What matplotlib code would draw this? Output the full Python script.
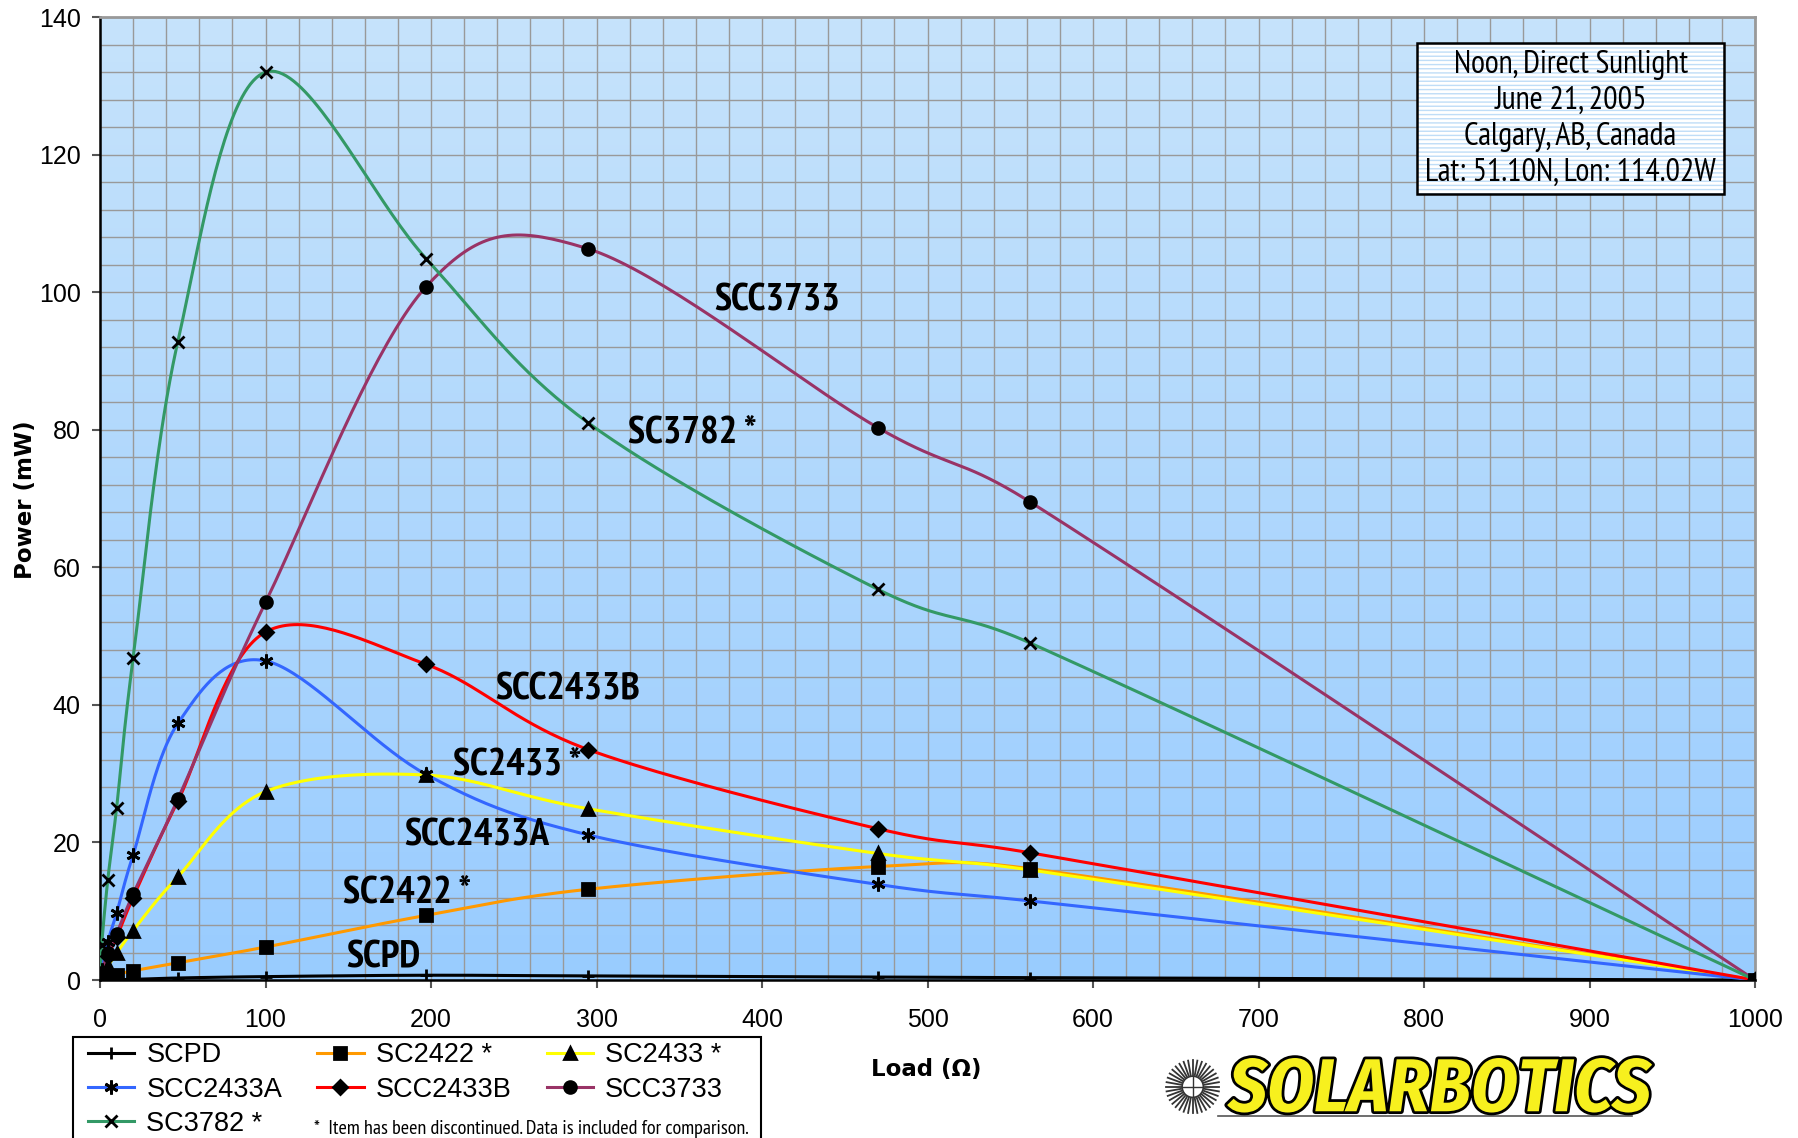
import logging
import numpy as np
import matplotlib
matplotlib.use("Agg")
import matplotlib.pyplot as plt
import matplotlib.patheffects as pe
from matplotlib.patches import Rectangle
from matplotlib.ticker import MultipleLocator

logging.getLogger("matplotlib.font_manager").setLevel(logging.ERROR)

# load resistance (ohm) and measured power (mW) for each cell
load = [0, 1, 4.7, 10, 20, 47, 100, 197, 295, 470, 562, 1000]

scpd = [0, 0.0, 0.0, 0.05, 0.1, 0.3, 0.5, 0.7, 0.6, 0.45, 0.35, 0]
sc2422 = [0, 0.1, 0.4, 0.8, 1.35, 2.5, 4.8, 9.4, 13.2, 16.5, 16.2, 0]
sc2433 = [0, 0.5, 2.0, 3.9, 7.2, 15.0, 27.4, 29.8, 24.9, 18.4, 16.0, 0]
scc2433a = [0, 1.5, 5.6, 9.7, 18.2, 37.3, 46.4, 29.9, 21.1, 13.9, 11.5, 0]
scc2433b = [0, 1.0, 3.5, 6.2, 12.0, 26.0, 50.6, 45.9, 33.5, 22.0, 18.5, 0]
scc3733 = [0, 1.0, 3.9, 6.7, 12.5, 26.3, 54.9, 100.8, 106.3, 80.3, 69.5, 0]
sc3782 = [0, 5.1, 14.6, 25.0, 46.8, 92.8, 132.0, 104.9, 81.0, 56.8, 49.0, 0]

names = ["SCPD", "SC2422 *", "SC2433 *", "SCC2433A", "SCC2433B", "SCC3733", "SC3782 *"]
values = [scpd, sc2422, sc2433, scc2433a, scc2433b, scc3733, sc3782]
colors = ["black", "#FF9900", "#FFFF00", "#3366FF", "#FF0000", "#993366", "#339966"]
markers = ["+", "s", "^", (6, 2, 0), "D", "o", "x"]
msizes = [9, 8, 8.5, 10, 7, 8.5, 8]

# inline labels: (text, x, y)
label_text = ["SCC3733", "SC3782 *", "SCC2433B", "SC2433 *", "SCC2433A", "SC2422 *", "SCPD"]
label_x = [371, 319, 239, 213, 184, 147, 149]
label_y = [98.7, 79.5, 42.1, 31.2, 21.0, 12.7, 3.2]

info_lines = ["Noon, Direct Sunlight", "June 21, 2005", "Calgary, AB, Canada",
              "Lat: 51.10N, Lon: 114.02W"]

NARROW = ["Arial Narrow", "Liberation Sans Narrow", "PT Sans Narrow", "Archivo Narrow",
          "Roboto Condensed", "Liberation Sans"]
LOGO = ["Fira Sans Condensed", "Barlow Condensed", "Roboto Condensed", "Archivo Narrow",
        "PT Sans Narrow", "Liberation Sans"]
ARIAL = ["Liberation Sans", "DejaVu Sans"]


def smooth(ax, x, y, steps=40):
    # excel-like smoothed line: bezier with 1/6 tangents, capped at half the segment
    # length (measured on screen)
    data = np.column_stack([x, y]).astype(float)
    data = np.vstack([data[0], data, data[-1]])
    scr = ax.transData.transform(data)
    t = np.linspace(0, 1, steps)[:, None]
    out = []
    for i in range(1, len(data) - 2):
        p0, p1, p2, p3 = data[i - 1], data[i], data[i + 1], data[i + 2]
        d12 = np.hypot(*(scr[i + 1] - scr[i]))
        d02 = np.hypot(*(scr[i + 1] - scr[i - 1]))
        d13 = np.hypot(*(scr[i + 2] - scr[i]))
        f1 = 1 / 6 if d02 / 6 < d12 / 2 else d12 / (2 * d02)
        f2 = 1 / 6 if d13 / 6 < d12 / 2 else d12 / (2 * d13)
        c1 = p1 + f1 * (p2 - p0)
        c2 = p2 - f2 * (p3 - p1)
        seg = (1 - t) ** 3 * p1 + 3 * (1 - t) ** 2 * t * c1 + 3 * (1 - t) * t ** 2 * c2 + t ** 3 * p2
        out.append(seg if i == 1 else seg[1:])
    out = np.vstack(out)
    return out[:, 0], out[:, 1]


fig = plt.figure(figsize=(17.99, 11.38), dpi=100)
ax = fig.add_axes([0.0556, 0.1388, 0.92, 0.8462])

# gradient background
grad = np.linspace(0, 1, 256)[:, None]
cmap = matplotlib.colors.LinearSegmentedColormap.from_list("bg", ["#99CCFF", "#C6E3FB"])
ax.imshow(grad, cmap=cmap, origin="lower", extent=[0, 1, 0, 1], transform=ax.transAxes,
          aspect="auto", zorder=0)
ax.set_xlim(0, 1000)
ax.set_ylim(0, 140)

handles = []
for name, vals, col, mk, ms in zip(names, values, colors, markers, msizes):
    sx, sy = smooth(ax, load, vals)
    ax.plot(sx, sy, color=col, lw=2.2, zorder=3, solid_capstyle="round")
    ax.plot(load, vals, ls="none", marker=mk, color="black", ms=ms, mew=2, zorder=4)
    h, = ax.plot([], [], color=col, lw=2.2, marker=mk, mfc="black", mec="black", ms=ms, mew=2)
    handles.append(h)

ax.set_xlim(0, 1000)
ax.set_ylim(0, 140)
ax.xaxis.set_major_locator(MultipleLocator(100))
ax.xaxis.set_minor_locator(MultipleLocator(20))
ax.yaxis.set_major_locator(MultipleLocator(20))
ax.yaxis.set_minor_locator(MultipleLocator(4))
ax.grid(which="both", color="#999999", lw=1)
for gl in ax.get_xgridlines() + ax.get_ygridlines():
    gl.set_zorder(1)
ax.tick_params(which="minor", length=0)
ax.tick_params(axis="y", which="major", length=6, width=1.5, color="#555555", pad=8, labelsize=18)
ax.tick_params(axis="x", which="major", length=6, width=1.5, color="#555555", pad=14, labelsize=18)
for lab in ax.get_xticklabels() + ax.get_yticklabels():
    lab.set_family(ARIAL)

for side in ["top", "right"]:
    ax.spines[side].set_color("#999999")
    ax.spines[side].set_linewidth(2)
ax.spines["left"].set_color("black")
ax.spines["left"].set_linewidth(1.8)
ax.spines["bottom"].set_color("black")
ax.spines["bottom"].set_linewidth(1.8)

for txt, lx, ly in zip(label_text, label_x, label_y):
    ax.text(lx, ly, txt, ha="left", va="center", fontsize=28, fontweight="bold",
            family=NARROW, zorder=5)

# info box
box_x0, box_x1, box_y0, box_y1 = 796, 981, 114.3, 136.3
ax.add_patch(Rectangle((box_x0, box_y0), box_x1 - box_x0, box_y1 - box_y0, facecolor="white",
                       edgecolor="#BFDDF7", hatch="----", lw=0, zorder=5))
ax.add_patch(Rectangle((box_x0, box_y0), box_x1 - box_x0, box_y1 - box_y0, fill=False,
                       edgecolor="black", lw=1.8, zorder=6))
for i, line in enumerate(info_lines):
    ax.text((box_x0 + box_x1) / 2, 133.0 - i * 5.2, line, ha="center", va="center",
            fontsize=23, family=NARROW, zorder=7)

fig.text(0.0139, 0.5606, "Power (mW)", rotation=90, ha="center", va="center",
         fontsize=16.5, fontweight="bold", family="DejaVu Sans")
fig.text(0.515, 0.0606, "Load (\u03a9)", ha="center", va="center",
         fontsize=16.5, fontweight="bold", family="DejaVu Sans")

# legend (row-major order in 3 columns)
order = [0, 3, 6, 1, 4, 2, 5]
leg = fig.legend([handles[i] for i in order], [names[i] for i in order], ncol=3,
                 loc="upper left", bbox_to_anchor=(0.049, 0.084), frameon=False,
                 prop={"family": ARIAL, "size": 19.5}, handlelength=1.7, handletextpad=0.45,
                 columnspacing=1.3, labelspacing=0.3, borderpad=0, borderaxespad=0)
fig.patches.append(Rectangle((0.0404, -0.01), 0.3826, 0.0985, transform=fig.transFigure,
                             fill=False, edgecolor="black", lw=1.5))
fig.text(0.1745, 0.008, "*  Item has been discontinued. Data is included for comparison.",
         ha="left", va="center", fontsize=14.5, family=NARROW)

# logo
fig.text(0.683, 0.0235, "SOLARBOTICS", ha="left", va="baseline", fontsize=54,
         fontweight="bold", fontstyle="italic", family=LOGO, color="#F7F01E",
         path_effects=[pe.withStroke(linewidth=4, foreground="black")])
sun = fig.add_axes([0.6475, 0.0205, 0.031, 0.049])
sun.set_xlim(-1.05, 1.05)
sun.set_ylim(-1.05, 1.05)
sun.set_aspect("equal")
sun.axis("off")
for a in np.linspace(0, 2 * np.pi, 36, endpoint=False):
    sun.plot([0.45 * np.cos(a), np.cos(a)], [0.45 * np.sin(a), np.sin(a)], color="#333333", lw=1.3)
sun.add_patch(plt.Circle((0, 0), 0.4, fill=False, ec="#333333", lw=1.2))
sun.plot([-0.4, 0.4], [0, 0], color="#333333", lw=1)
sun.plot([0, 0], [-0.4, 0.4], color="#333333", lw=1)
fig.add_artist(plt.Line2D([0.677, 0.907], [0.0195, 0.0195], color="#555555", lw=1.2))

fig.savefig("out.png", dpi=100)
plt.close(fig)
